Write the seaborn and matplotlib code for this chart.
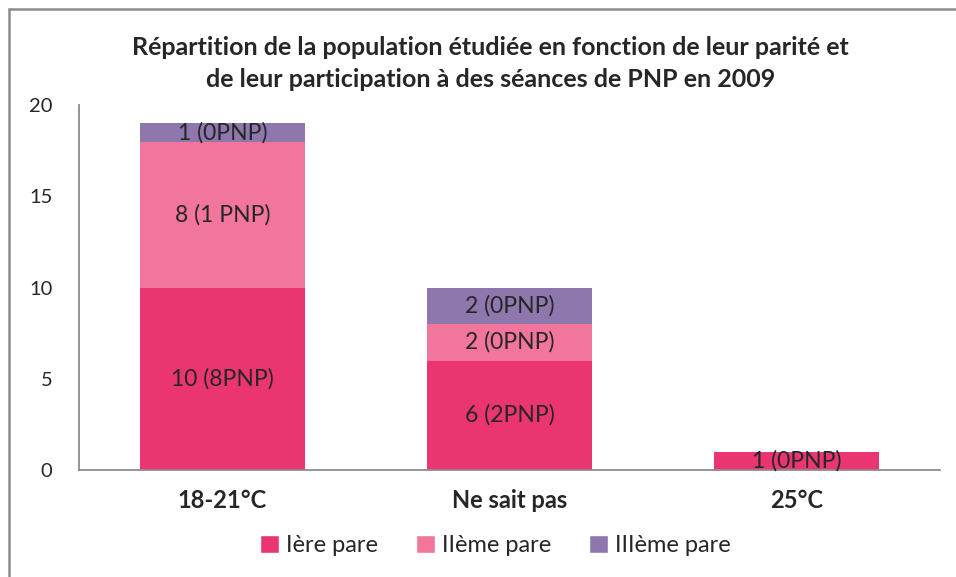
import numpy as np
import pandas as pd
import seaborn as sns
import matplotlib.pyplot as plt
from matplotlib.lines import Line2D
from matplotlib.patches import Patch

categories = ['18-21°C', 'Ne sait pas', '25°C']
series_names = ['Ière pare', 'IIème pare', 'IIIème pare']
primipares = [10, 6, 1]
deuxiemes = [8, 2, 0]
troisiemes = [1, 2, 0]
labels_prim = ['10 (8PNP)', '6 (2PNP)', '1 (0PNP)']
labels_deux = ['8 (1 PNP)', '2 (0PNP)', '']
labels_trois = ['1 (0PNP)', '2 (0PNP)', '']
colors = ['#EA3570', '#F2769C', '#8E77AD']

sns.set_style('white')
plt.rcParams['font.family'] = ['Lato', 'DejaVu Sans']

df = pd.DataFrame({'cat': categories,
                   's1': primipares, 's2': deuxiemes, 's3': troisiemes})
df['c2'] = df['s1'] + df['s2']
df['c3'] = df['c2'] + df['s3']

fig = plt.figure(figsize=(9.56, 5.77), dpi=100)
ax = fig.add_axes([0.0826, 0.1854, 0.9006, 0.6326])

# stacked by drawing cumulative totals from the top down
for col, color in zip(['c3', 'c2', 's1'], colors[::-1]):
    sns.barplot(data=df, x='cat', y=col, color=color, width=0.575,
                saturation=1, ax=ax, linewidth=0)

lab_size = 16.5
for i in range(len(categories)):
    ax.text(i, df['s1'][i] / 2, labels_prim[i], ha='center', va='center', fontsize=lab_size)
    if labels_deux[i]:
        ax.text(i, df['s1'][i] + df['s2'][i] / 2, labels_deux[i],
                ha='center', va='center', fontsize=lab_size)
    if labels_trois[i]:
        ax.text(i, df['c2'][i] + df['s3'][i] / 2, labels_trois[i],
                ha='center', va='center', fontsize=lab_size)

ax.set_xlim(-0.5, 2.5)
ax.set_ylim(0, 20)
ax.set_yticks([0, 5, 10, 15, 20])
ax.set_xlabel('')
ax.set_ylabel('')
ax.tick_params(axis='y', length=0, pad=19, labelsize=14.5)
ax.tick_params(axis='x', length=0, pad=14, labelsize=17)
for t in ax.get_xticklabels():
    t.set_fontweight('bold')
for s in ['top', 'right']:
    ax.spines[s].set_visible(False)
for s in ['left', 'bottom']:
    ax.spines[s].set_color('#8C8C8C')
    ax.spines[s].set_linewidth(1.3)

fig.text(0.513, 0.890, 'Répartition de la population étudiée en fonction de leur parité et\n'
         'de leur participation à des séances de PNP en 2009',
         ha='center', va='center', fontsize=18, fontweight='bold', linespacing=1.5)

handles = [Patch(facecolor=c) for c in colors]
fig.legend(handles, series_names, loc='center', bbox_to_anchor=(0.518, 0.054),
           ncol=3, frameon=False, fontsize=17, handlelength=0.8, handleheight=0.8,
           handletextpad=0.3, columnspacing=1.6)

# chart frame
fig.add_artist(Line2D([9 / 956, 1], [1 - 9 / 577, 1 - 9 / 577], color='#8C8C8C', lw=1.8))
fig.add_artist(Line2D([9 / 956, 9 / 956], [0, 1 - 9 / 577], color='#8C8C8C', lw=1.8))

fig.savefig('out.png', dpi=100)
